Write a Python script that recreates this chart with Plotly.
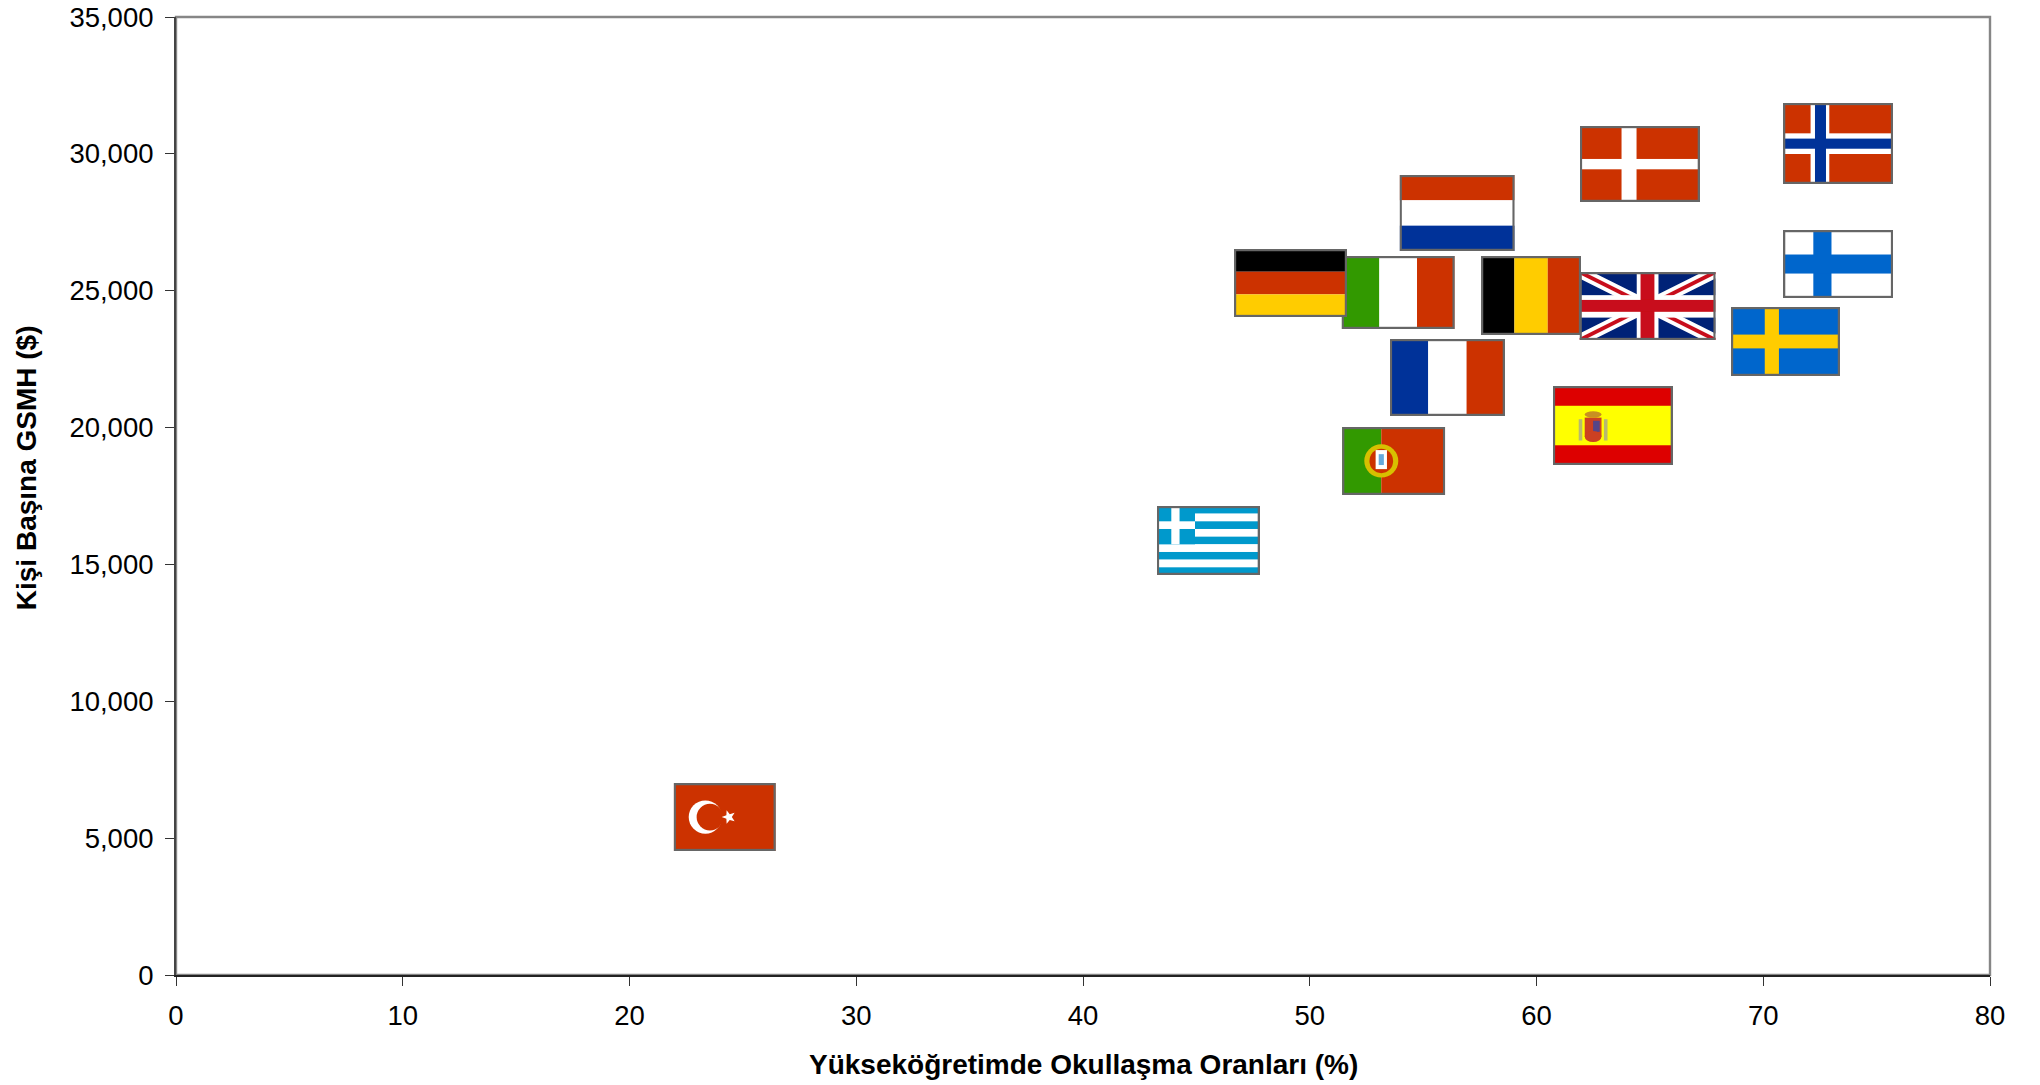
import math
from urllib.parse import quote
import plotly.graph_objects as go

# ---- data ----
countries = ["Türkiye", "Yunanistan", "Portekiz", "İspanya", "Fransa", "İsveç", "Birleşik Krallık",
             "Danimarka", "İtalya", "Finlandiya", "Hollanda", "Norveç", "Almanya", "Belçika"]
enrolment = [24.2, 45.53, 53.7, 63.37, 56.07, 70.98, 64.9,
             64.56, 53.9, 73.3, 56.5, 73.3, 49.15, 59.76]
gdp_per_capita = [5770, 15875, 18780, 20075, 21830, 23145, 24440,
                  29630, 24935, 25975, 27840, 30380, 25280, 24825]

x_ticks = [0, 10, 20, 30, 40, 50, 60, 70, 80]
y_ticks = [0, 5000, 10000, 15000, 20000, 25000, 30000, 35000]
x_title = "Yükseköğretimde Okullaşma Oranları (%)"
y_title = "Kişi Başına GSMH ($)"

# ---- flag artwork, pixel sizes ----
FLAG_PX = {"Türkiye": (102, 68), "Yunanistan": (103, 69), "Portekiz": (103, 68), "İspanya": (120, 79),
           "Fransa": (115, 77), "İsveç": (109, 69), "Birleşik Krallık": (136, 68), "Danimarka": (120, 76),
           "İtalya": (113, 73), "Finlandiya": (110, 68), "Hollanda": (115, 76), "Norveç": (110, 81),
           "Almanya": (113, 68), "Belçika": (100, 79)}
PX_PER_X = 22.675
PX_PER_Y = 958 / 35000

RED, BLUE, GREEN, YEL = "#CC3300", "#003399", "#339900", "#FFCC00"
NORD = "#0066CC"


def R(w, h, x0, y0, x1, y1, c):
    return f'<rect x="{x0*w:.2f}" y="{y0*h:.2f}" width="{(x1-x0)*w:.2f}" height="{(y1-y0)*h:.2f}" fill="{c}"/>'


def Hbands(w, h, cols):
    n = len(cols)
    return "".join(R(w, h, 0, i / n, 1, (i + 1) / n, c) for i, c in enumerate(cols))


def Vbands(w, h, cols):
    n = len(cols)
    return "".join(R(w, h, i / n, 0, (i + 1) / n, 1, c) for i, c in enumerate(cols))


def star(cx, cy, r):
    pts = []
    for i in range(10):
        a = -math.pi + i * math.pi / 5
        rr = r if i % 2 == 0 else r * 0.42
        pts.append(f"{cx+rr*math.cos(a):.2f},{cy+rr*math.sin(a):.2f}")
    return f'<polygon points="{" ".join(pts)}" fill="#fff"/>'


def E(w, h, cx, cy, rx, ry, c):
    return f'<ellipse cx="{cx*w:.2f}" cy="{cy*h:.2f}" rx="{rx*w:.2f}" ry="{ry*h:.2f}" fill="{c}"/>'


def flag_body(name, w, h):
    if name == "Türkiye":
        return (R(w, h, 0, 0, 1, 1, RED)
                + f'<circle cx="{.31*w}" cy="{.5*h}" r="{.245*h}" fill="#fff"/>'
                + f'<circle cx="{.355*w}" cy="{.5*h}" r="{.196*h}" fill="{RED}"/>'
                + star(.54 * w, .5 * h, .105 * h))
    if name == "Yunanistan":
        c = "#0099CC"
        s = Hbands(w, h, [c, "#fff"] * 4 + [c])
        s += R(w, h, 0, 0, .37, 5 / 9, c)
        s += R(w, h, .14, 0, .22, 5 / 9, "#fff") + R(w, h, 0, 2 / 9, .37, 3 / 9, "#fff")
        return s
    if name == "Portekiz":
        return (R(w, h, 0, 0, .38, 1, GREEN) + R(w, h, .38, 0, 1, 1, RED)
                + E(w, h, .38, .5, .165, .245, "#D8C000")
                + E(w, h, .38, .5, .115, .18, "#CC3300")
                + R(w, h, .325, .34, .435, .62, "#fff") + R(w, h, .355, .40, .405, .56, "#66AADD"))
    if name == "İspanya":
        return (Hbands(w, h, ["#DD0000"]) + R(w, h, 0, .25, 1, .75, "#FFFF00")
                + R(w, h, .215, .42, .245, .69, "#B8B870") + R(w, h, .425, .42, .455, .69, "#B8B870")
                + E(w, h, .335, .36, .07, .04, "#C89020")
                + R(w, h, .265, .40, .405, .64, "#CC4020") + R(w, h, .335, .44, .39, .58, "#554488")
                + E(w, h, .335, .64, .07, .07, "#CC4020"))
    if name == "Fransa":
        return Vbands(w, h, [BLUE, "#fff", RED])
    if name == "İsveç":
        return R(w, h, 0, 0, 1, 1, NORD) + R(w, h, .31, 0, .44, 1, YEL) + R(w, h, 0, .40, 1, .60, YEL)
    if name == "Birleşik Krallık":
        navy, red = "#002277", "#C8101A"
        return (R(w, h, 0, 0, 1, 1, navy)
                + f'<path d="M0,0L{w},{h}M0,{h}L{w},0" stroke="#fff" stroke-width="{.17*h}"/>'
                + f'<path d="M0,0L{w},{h}M0,{h}L{w},0" stroke="{red}" stroke-width="{.055*h}"/>'
                + R(w, h, .42, 0, .58, 1, "#fff") + R(w, h, 0, .34, 1, .67, "#fff")
                + R(w, h, .448, 0, .55, 1, red) + R(w, h, 0, .41, 1, .585, red))
    if name == "Danimarka":
        return R(w, h, 0, 0, 1, 1, RED) + R(w, h, .347, 0, .472, 1, "#fff") + R(w, h, 0, .434, 1, .57, "#fff")
    if name == "İtalya":
        return Vbands(w, h, [GREEN, "#fff", RED])
    if name == "Finlandiya":
        return R(w, h, 0, 0, 1, 1, "#fff") + R(w, h, .275, 0, .44, 1, NORD) + R(w, h, 0, .36, 1, .64, NORD)
    if name == "Hollanda":
        return Hbands(w, h, [RED, "#fff", BLUE])
    if name == "Norveç":
        return (R(w, h, 0, 0, 1, 1, RED) + R(w, h, .25, 0, .42, 1, "#fff") + R(w, h, 0, .375, 1, .63, "#fff")
                + R(w, h, .29, 0, .39, 1, BLUE) + R(w, h, 0, .44, 1, .565, BLUE))
    if name == "Almanya":
        return Hbands(w, h, ["#000", RED, YEL])
    if name == "Belçika":
        return Vbands(w, h, ["#000", YEL, RED])
    return ""


def flag_uri(name):
    w, h = FLAG_PX[name]
    svg = (f'<svg xmlns="http://www.w3.org/2000/svg" width="{w}" height="{h}" viewBox="0 0 {w} {h}" '
           f'preserveAspectRatio="none"><defs><filter id="s" x="-5%" y="-5%" width="110%" height="110%">'
           f'<feGaussianBlur stdDeviation="0.45"/></filter></defs>'
           f'<rect width="{w}" height="{h}" fill="#fff"/><g filter="url(#s)">{flag_body(name, w, h)}</g>'
           f'<rect x="1" y="1" width="{w-2}" height="{h-2}" fill="none" stroke="#666666" stroke-width="2.4"/></svg>')
    return "data:image/svg+xml;charset=utf-8," + quote(svg)


images = []
for name, xv, yv in zip(countries, enrolment, gdp_per_capita):
    w, h = FLAG_PX[name]
    images.append(dict(source=flag_uri(name), xref="x", yref="y", x=xv, y=yv,
                       sizex=w / PX_PER_X, sizey=h / PX_PER_Y, sizing="stretch",
                       xanchor="center", yanchor="middle", layer="above"))

fig = go.Figure(go.Scatter(x=enrolment, y=gdp_per_capita, text=countries, mode="markers",
                           marker=dict(size=30, opacity=0), showlegend=False,
                           hovertemplate="%{text}<br>%{x}%<br>$%{y:,}<extra></extra>"))

FONT = "Liberation Sans, Arial, sans-serif"
fig.update_layout(
    width=2040, height=1085, margin=dict(l=176, r=50, t=17, b=110, autoexpand=False),
    paper_bgcolor="#fff", plot_bgcolor="#fff", images=images,
    font=dict(family=FONT, size=27.5, color="#000"), hovermode="closest",
    shapes=[dict(type="rect", xref="paper", yref="paper", x0=0, x1=1, y0=0, y1=1,
                 line=dict(color="#868686", width=2.4), layer="below")],
    annotations=[
        dict(text=f"<b>{x_title}</b>", xref="paper", yref="paper", x=0.5, y=0, yshift=-89,
             showarrow=False, font=dict(size=28, family=FONT), xanchor="center", yanchor="middle"),
        dict(text=f"<b>{y_title}</b>", xref="paper", yref="paper", x=0, xshift=-150, y=0.529,
             showarrow=False, textangle=-90, font=dict(size=28, family=FONT), xanchor="center", yanchor="middle"),
    ],
)
fig.update_xaxes(range=[0, 80], tickvals=x_ticks, ticks="outside", ticklen=9, tickwidth=1.3, tickcolor="#333",
                 showgrid=False, zeroline=False, showline=True, linecolor="#222", linewidth=2,
                 tickfont=dict(size=27.5), ticklabelstandoff=6)
fig.update_yaxes(range=[0, 35000], tickvals=y_ticks, tickformat=",", ticks="outside", ticklen=9, tickwidth=1.3,
                 tickcolor="#333", showgrid=False, zeroline=False, showline=True, linecolor="#444", linewidth=2,
                 tickfont=dict(size=27.5), ticklabelstandoff=6)

fig.write_html("out.html", config={"displayModeBar": False}, post_script="document.body.style.margin='0';")
